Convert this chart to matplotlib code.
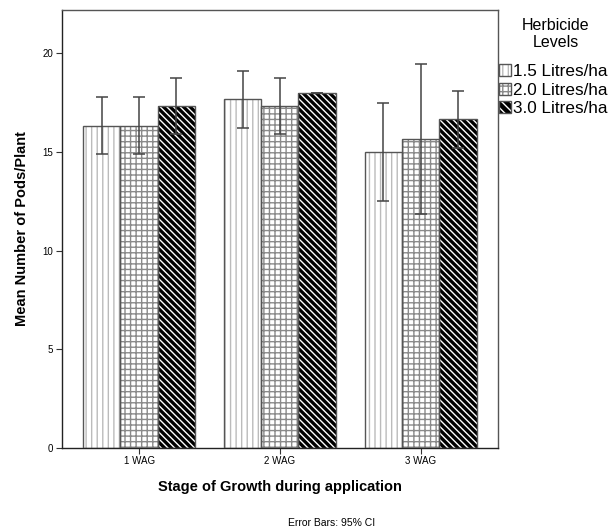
import matplotlib
matplotlib.use("Agg")
import matplotlib.pyplot as plt
from matplotlib.patches import Patch
import numpy as np

plt.rcParams['font.family'] = ['Liberation Sans', 'DejaVu Sans']
plt.rcParams['hatch.linewidth'] = 1.0

stages = ['1 WAG', '2 WAG', '3 WAG']
levels = ['1.5 Litres/ha', '2.0 Litres/ha', '3.0 Litres/ha']

# mean pods per plant, one list per herbicide level
mean_15 = [16.33, 17.67, 15.00]
mean_20 = [16.33, 17.33, 15.67]
mean_30 = [17.33, 18.00, 16.67]

# half width of the 95% CI
ci_15 = [1.44, 1.43, 2.48]
ci_20 = [1.44, 1.43, 3.79]
ci_30 = [1.43, 0.0, 1.45]

means = [mean_15, mean_20, mean_30]
cis = [ci_15, ci_20, ci_30]
# (face, hatch colour, hatch)
styles = [('white', '#bbbbbb', '|||'),
          ('white', '#8a8a8a', '+++'),
          ('black', 'white', '\\\\\\\\\\')]

fig = plt.figure(figsize=(6.12, 5.31), dpi=100)
ax = fig.add_axes([0.1008, 0.1563, 0.7129, 0.8247])

x = np.arange(len(stages))
w = 0.265
handles = []
for i, (m, c, st) in enumerate(zip(means, cis, styles)):
    pos = x + (i - 1) * w
    face, hcol, hatch = st
    ax.bar(pos, m, w, color=face, edgecolor=hcol, hatch=hatch, linewidth=0, zorder=2)
    ax.bar(pos, m, w, fill=False, edgecolor='#555555', linewidth=1.0, zorder=3)
    ax.errorbar(pos, m, yerr=c, fmt='none', ecolor='#444444', elinewidth=1.1,
                capsize=4, capthick=1.1, zorder=4)
    handles.append((Patch(facecolor=face, edgecolor=hcol, hatch=hatch[:4], linewidth=0),
                    Patch(fill=False, edgecolor='#555555', linewidth=1.0)))

ax.set_xlim(-0.55, 2.55)
ax.set_ylim(0, 22.2)
ax.set_yticks([0, 5, 10, 15, 20])
ax.set_xticks(x)
ax.set_xticklabels(stages)
ax.tick_params(axis='both', labelsize=7, length=4, width=0.8, color='#333333', pad=2)
for s in ax.spines.values():
    s.set_color('#555555')
    s.set_linewidth(1.0)
ax.spines['left'].set_color('#222222')
ax.spines['bottom'].set_color('#222222')

ax.set_xlabel('Stage of Growth during application', fontsize=10.5, fontweight='bold', labelpad=10)
ax.set_ylabel('Mean Number of Pods/Plant', fontsize=10.5, fontweight='bold', labelpad=10)

fig.text(0.541, 0.015, 'Error Bars: 95% CI', fontsize=7.5, ha='center', va='center')

# legend title drawn separately so its spacing can follow the original
fig.text(0.9085, 1 - 26 / 531, 'Herbicide', fontsize=11.5, ha='center', va='center')
fig.text(0.9085, 1 - 42.7 / 531, 'Levels', fontsize=11.5, ha='center', va='center')

leg = fig.legend(handles, levels, loc='upper left',
                 bbox_to_anchor=(0.816, 0.879), frameon=False, fontsize=12.3,
                 handlelength=0.7, handleheight=0.7,
                 handletextpad=0.1, labelspacing=0.2, borderaxespad=0, borderpad=0)

fig.savefig('out.png', dpi=100)
